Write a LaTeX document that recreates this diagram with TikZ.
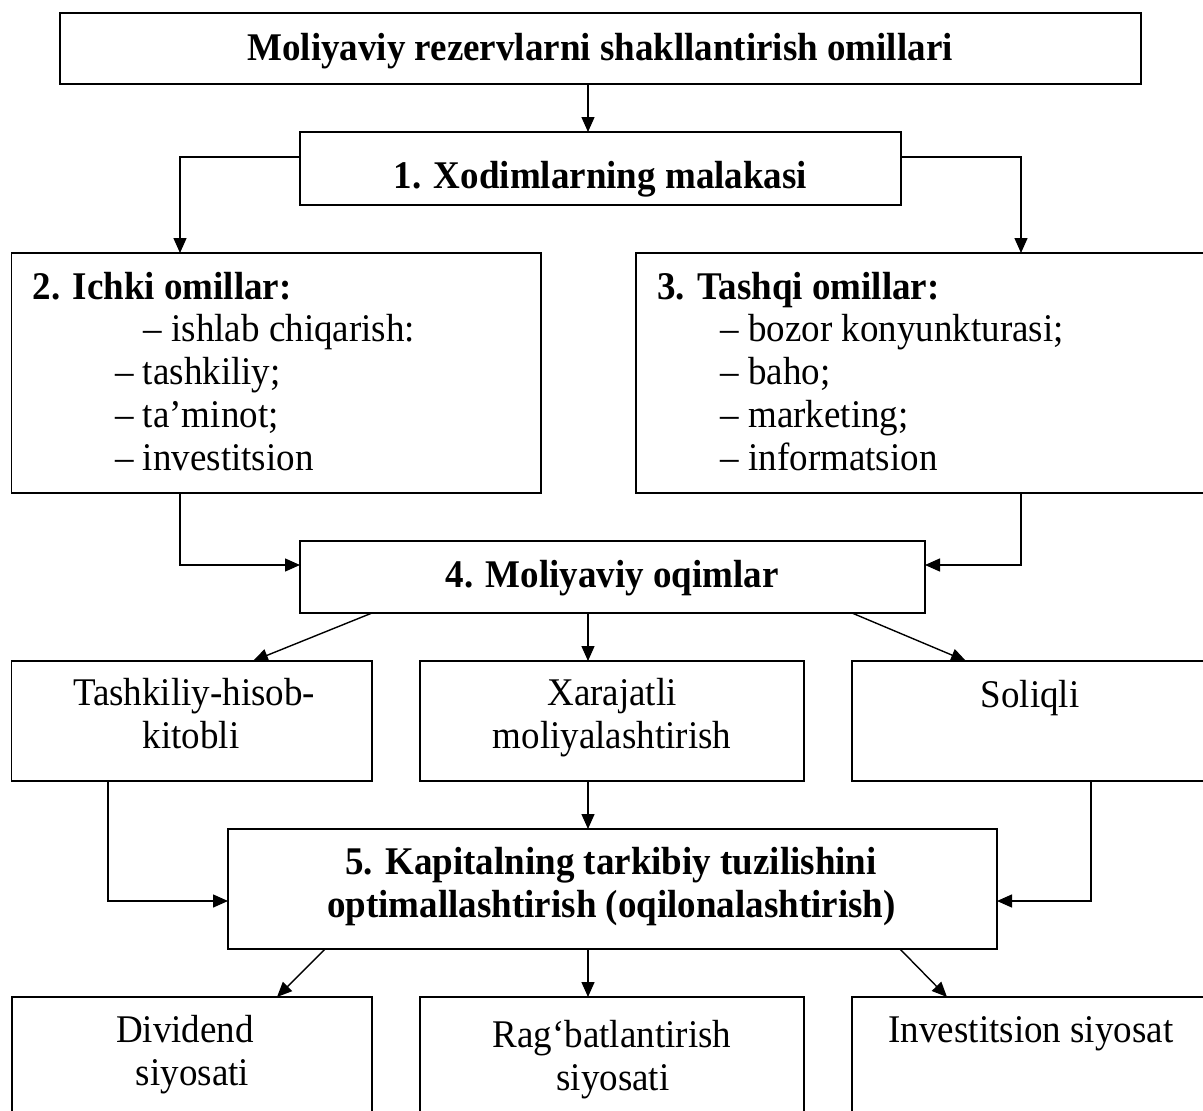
\documentclass[tikz,border=0pt]{standalone}
\usepackage{fontspec}
\usepackage{graphicx}
\setmainfont{Liberation Serif}
\usetikzlibrary{arrows.meta,calc}

% text is set slightly taller than its natural shape
\newcommand\tallset[1]{\scalebox{1}[1.06]{#1}}

\begin{document}
\begin{tikzpicture}[x=1pt,y=-1pt,
  box/.style={draw, rectangle, line width=1.5pt, inner sep=0pt, outer sep=0pt},
  arr/.style={line width=1.4pt, -{Triangle[length=15pt,width=13pt]}},
  txt/.style={font=\fontsize{37}{43}\selectfont, inner sep=0pt, anchor=base},
  btxt/.style={txt, font=\fontsize{37}{43}\selectfont\bfseries},
  ltxt/.style={txt, anchor=base west},
  bltxt/.style={btxt, anchor=base west}]

\useasboundingbox (0,0) rectangle (1203,1111);
\fill[white] (0,0) rectangle (1203,1111);
\clip (0,0) rectangle (1203,1111);

% boxes
\node[box, line width=2pt, minimum width=1081pt, minimum height=71pt] (top) at (600.5,48.5) {};
\node[box, minimum width=601pt, minimum height=73pt] (b1) at (600.5,168.5) {};
\node[box, minimum width=529.5pt, minimum height=240pt] (b2) at (276.25,373) {};
\node[box, minimum width=574pt, minimum height=240pt] (b3) at (923,373) {};
\node[box, minimum width=625pt, minimum height=72pt] (b4) at (612.5,577) {};
\node[box, minimum width=360.5pt, minimum height=120pt] (bA) at (191.75,721) {};
\node[box, minimum width=384pt, minimum height=120pt] (bB) at (612,721) {};
\node[box, minimum width=358pt, minimum height=120pt] (bC) at (1031,721) {};
\node[box, minimum width=769pt, minimum height=120pt] (b5) at (612.5,889) {};
\node[box, minimum width=360pt, minimum height=123pt] (bD) at (192,1058.5) {};
\node[box, minimum width=384pt, minimum height=123pt] (bE) at (612,1058.5) {};
\node[box, minimum width=358pt, minimum height=123pt] (bF) at (1031,1058.5) {};

% texts
\node[btxt] (ttop) at (600,60) {\tallset{Moliyaviy rezervlarni shakllantirish omillari}};
\node[btxt] (t1) at (600.5,188) {\tallset{1. Xodimlarning malakasi}};

\node[bltxt] (t2) at (32.5,299) {\tallset{2. Ichki omillar:}};
\node[ltxt] (t2a) at (143.5,341) {\tallset{– ishlab chiqarish:}};
\node[ltxt] (t2b) at (115,384) {\tallset{– tashkiliy;}};
\node[ltxt] (t2c) at (115,427) {\tallset{– ta’minot;}};
\node[ltxt] (t2d) at (115,470) {\tallset{– investitsion}};

\node[bltxt] (t3) at (657,299) {\tallset{3. Tashqi omillar:}};
\node[ltxt] (t3a) at (720.5,341) {\tallset{– bozor konyunkturasi;}};
\node[ltxt] (t3b) at (720.5,384) {\tallset{– baho;}};
\node[ltxt] (t3c) at (720.5,427) {\tallset{– marketing;}};
\node[ltxt] (t3d) at (720.5,470) {\tallset{– informatsion}};

\node[btxt] (t4) at (612,587) {\tallset{4. Moliyaviy oqimlar}};

\node[txt] (tA1) at (194,705) {\tallset{Tashkiliy-hisob-}};
\node[txt] (tA2) at (191,748) {\tallset{kitobli}};
\node[txt] (tB1) at (612,705) {\tallset{Xarajatli}};
\node[txt] (tB2) at (612,748) {\tallset{moliyalashtirish}};
\node[txt] (tC1) at (1030,707) {\tallset{Soliqli}};

\node[btxt] (t5a) at (611,874) {\tallset{5. Kapitalning tarkibiy tuzilishini}};
\node[btxt] (t5b) at (611.5,917) {\tallset{optimallashtirish (oqilonalashtirish)}};

\node[txt] (tD1) at (185,1042) {\tallset{Dividend}};
\node[txt] (tD2) at (192.5,1085) {\tallset{siyosati}};
\node[txt] (tE1) at (612,1047) {\tallset{Rag‘batlantirish}};
\node[txt] (tE2) at (613,1090) {\tallset{siyosati}};
\node[txt] (tF1) at (1031,1042) {\tallset{Investitsion siyosat}};

% connector guides
\coordinate (xmid) at (588,0);
\coordinate (e1) at (180,157);
\coordinate (e2) at (1021,157);
\coordinate (e3) at (180,565);
\coordinate (e4) at (1021,565);
\coordinate (e5) at (108,901);
\coordinate (e6) at (1091,901);

% connectors
\draw[arr] (top.south -| xmid) -- (b1.north -| xmid);
\draw[arr] (b1.west |- e1) -| (b2.north -| e1);
\draw[arr] (b1.east |- e2) -| (b3.north -| e2);
\draw[arr] (b2.south -| e3) |- (b4.west |- e3);
\draw[arr] (b3.south -| e4) |- (b4.east |- e4);

\draw[arr] ($(b4.south west)+(72,0)$) -- ($(bA.north west)+(241.5,0)$);
\draw[arr] (b4.south -| xmid) -- (bB.north -| xmid);
\draw[arr] ($(b4.south west)+(552,0)$) -- ($(bC.north west)+(114,0)$);

\draw[arr] (bA.south -| e5) |- (b5.west |- e5);
\draw[arr] (bB.south -| xmid) -- (b5.north -| xmid);
\draw[arr] (bC.south -| e6) |- (b5.east |- e6);

\draw[arr] ($(b5.south west)+(97,0)$) -- ($(bD.north west)+(265,0)$);
\draw[arr] (b5.south -| xmid) -- (bE.north -| xmid);
\draw[arr] ($(b5.south west)+(672,0)$) -- ($(bF.north west)+(95,0)$);
\end{tikzpicture}
\end{document}
